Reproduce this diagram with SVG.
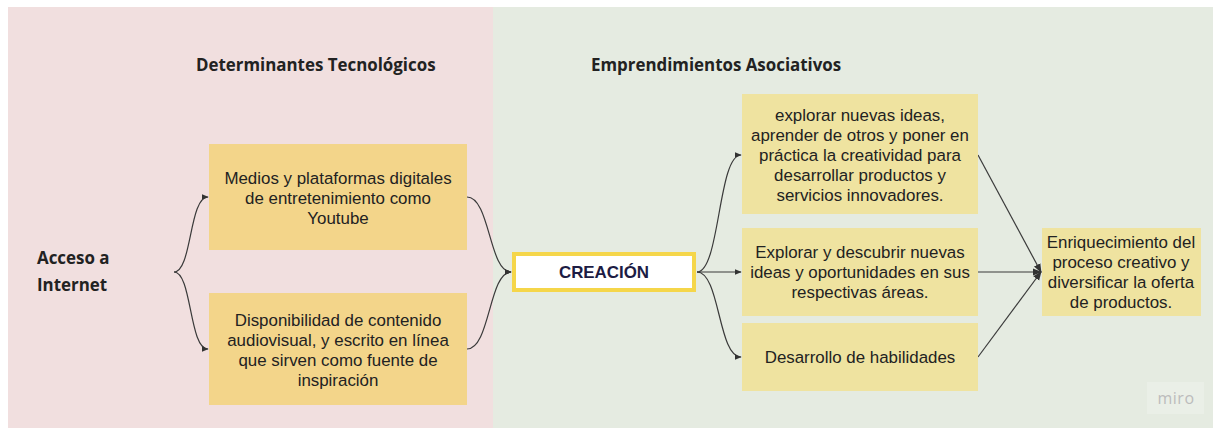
<svg xmlns="http://www.w3.org/2000/svg" width="1219" height="430" viewBox="0 0 1219 430">
<defs>
<style>
.hd{font-family:"Open Sans","Noto Sans",sans-serif;font-weight:700;font-size:16.9px;fill:#222}
.bt{font-family:"Liberation Sans",Arial,sans-serif;font-size:16.9px;fill:#222;text-anchor:middle}
.ly{fill:#f3d58a}
.ry{fill:#efe3a0}
.cn{fill:none;stroke:#3a3a3a;stroke-width:1.2}
</style>
<marker id="ah" viewBox="0 0 10 10" refX="9" refY="5" markerWidth="7" markerHeight="7" markerUnits="userSpaceOnUse" orient="auto">
<path d="M0,1 L10,5 L0,9 Z" fill="#333"/>
</marker>
<marker id="ah2" viewBox="0 0 10 10" refX="9" refY="5" markerWidth="9" markerHeight="9" markerUnits="userSpaceOnUse" orient="auto">
<path d="M0,1 L10,5 L0,9 Z" fill="#333"/>
</marker>
</defs>
<rect x="0" y="0" width="1219" height="430" fill="#ffffff"/>
<g id="panels">
<rect x="8" y="7" width="485" height="421" fill="#f1dfdf"/>
<rect x="493" y="7" width="720" height="421" fill="#e5ebe1"/>
</g>
<g id="headings">
<text class="hd" x="196" y="71">Determinantes Tecnológicos</text>
<text class="hd" x="591" y="71">Emprendimientos Asociativos</text>
</g>
<g id="connectors">
<path class="cn" d="M174,272 C192,272 189,197 208,197" marker-end="url(#ah)"/>
<path class="cn" d="M174,272 C192,272 189,349 208,349" marker-end="url(#ah)"/>
<path class="cn" d="M467,197 C490,197 489,272 511,272" marker-end="url(#ah)"/>
<path class="cn" d="M467,349 C490,349 489,272 511,272" marker-end="url(#ah)"/>
<path class="cn" d="M697,272 C720,272 718,155 741,155" marker-end="url(#ah)"/>
<path class="cn" d="M697,272 L741,272" marker-end="url(#ah)"/>
<path class="cn" d="M697,272 C720,272 718,357 741,357" marker-end="url(#ah)"/>
<path class="cn" d="M978,155 L1041,272" marker-end="url(#ah2)"/>
<path class="cn" d="M978,272 L1041,272" marker-end="url(#ah2)"/>
<path class="cn" d="M978,357 L1041,272" marker-end="url(#ah2)"/>
</g>
<g id="acceso">
<text class="hd" x="37" y="264">Acceso a</text>
<text class="hd" x="37" y="291">Internet</text>
</g>
<g id="medios">
<rect class="ly" x="209" y="144" width="258" height="106"/>
<text class="bt" x="338" y="184">Medios y plataformas digitales</text>
<text class="bt" x="338" y="204">de entretenimiento como</text>
<text class="bt" x="338" y="224">Youtube</text>
</g>
<g id="disponibilidad">
<rect class="ly" x="209" y="293" width="258" height="112"/>
<text class="bt" x="338" y="326">Disponibilidad de contenido</text>
<text class="bt" x="338" y="346">audiovisual, y escrito en línea</text>
<text class="bt" x="338" y="366">que sirven como fuente de</text>
<text class="bt" x="338" y="386">inspiración</text>
</g>
<g id="creacion">
<rect x="514" y="254" width="180" height="36" fill="#ffffff" stroke="#f5d64a" stroke-width="4"/>
<text x="604" y="278" text-anchor="middle" style="font-family:'Liberation Sans',Arial,sans-serif;font-weight:700;font-size:16.9px;fill:#1c1c44">CREACIÓN</text>
</g>
<g id="explorar">
<rect class="ry" x="742" y="94" width="236" height="120"/>
<text class="bt" x="860" y="121">explorar nuevas ideas,</text>
<text class="bt" x="860" y="141">aprender de otros y poner en</text>
<text class="bt" x="860" y="161">práctica la creatividad para</text>
<text class="bt" x="860" y="181">desarrollar productos y</text>
<text class="bt" x="860" y="201">servicios innovadores.</text>
</g>
<g id="descubrir">
<rect class="ry" x="742" y="228" width="236" height="88"/>
<text class="bt" x="860" y="258">Explorar y descubrir nuevas</text>
<text class="bt" x="860" y="278">ideas y oportunidades en sus</text>
<text class="bt" x="860" y="298">respectivas áreas.</text>
</g>
<g id="habilidades">
<rect class="ry" x="742" y="323" width="236" height="68"/>
<text class="bt" x="860" y="363">Desarrollo de habilidades</text>
</g>
<g id="enriquecimiento">
<rect class="ry" x="1042" y="228" width="159" height="88"/>
<text class="bt" x="1121" y="248">Enriquecimiento del</text>
<text class="bt" x="1121" y="268">proceso creativo y</text>
<text class="bt" x="1121" y="288">diversificar la oferta</text>
<text class="bt" x="1121" y="308">de productos.</text>
</g>
<g id="miro">
<rect x="1147" y="382" width="57" height="32" fill="#eaefe7"/>
<text x="1176" y="404" text-anchor="middle" style="font-family:'Open Sans','Noto Sans',sans-serif;font-size:16px;fill:#bcbcbc;letter-spacing:0.5px">miro</text>
</g>
</svg>
